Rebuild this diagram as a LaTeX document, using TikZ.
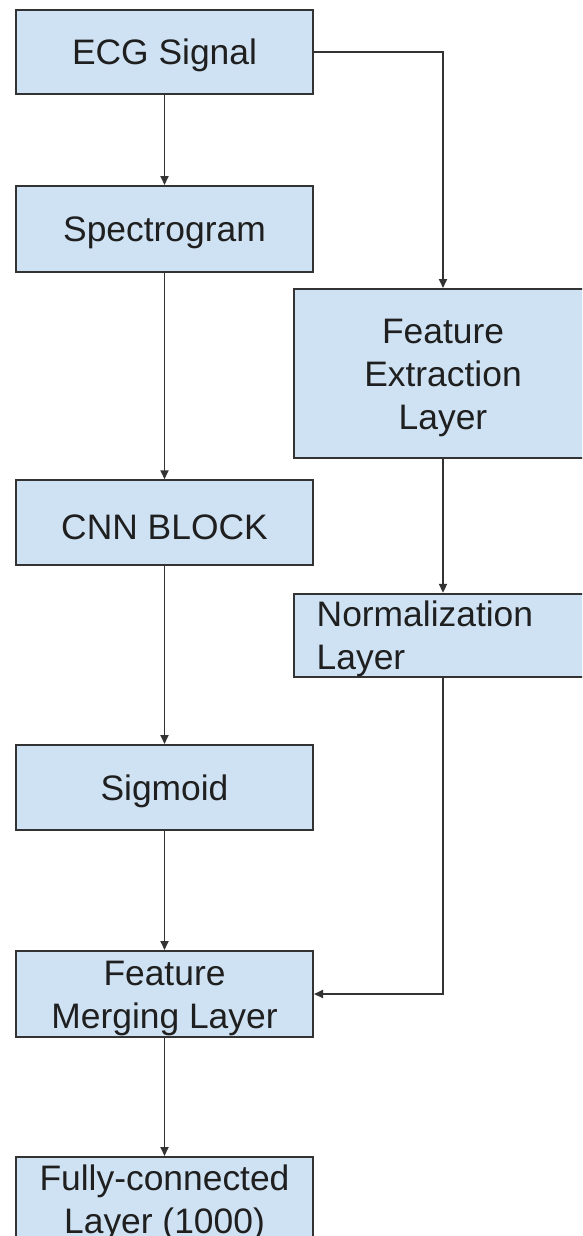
\documentclass[tikz,border=0pt]{standalone}
\usepackage{fontspec}
\setmainfont{Liberation Sans}
\usetikzlibrary{arrows.meta}
\definecolor{boxfill}{HTML}{CFE2F3}
\definecolor{edgecol}{HTML}{333333}
\begin{document}
\begin{tikzpicture}[x=1pt,y=-1pt,
  blk/.style={draw=edgecol, fill=boxfill, line width=2pt, minimum width=297pt, minimum height=85pt,
    inner sep=0pt, align=center, font=\fontsize{35.4}{43}\selectfont, text=black!88, text height=33pt},
  twoline/.style={text height=76pt},
  threeline/.style={text height=120pt},
  wideblk/.style={blk, minimum width=298pt},
  conn/.style={draw=edgecol, line width=1.8pt, -{Triangle[length=9pt,width=8pt]}}]
\useasboundingbox (0,0) rectangle (582,1236);
\clip (0,0) rectangle (582,1236);

\node[blk, minimum height=84pt] (ecg) at (164.5,52) {ECG Signal};
\node[blk, minimum height=86pt] (spec) at (164.5,229) {Spectrogram};
\node[wideblk, threeline, minimum height=169pt] (fe) at (443,373.5) {Feature\\Extraction\\Layer};
\node[blk] (cnn) at (164.5,522.75) {CNN BLOCK};
\node[wideblk, minimum height=83pt, align=left, text width=252.6pt, inner xsep=22.7pt] (norm) at (443,635.5) {Normalization\\Layer};
\node[blk] (sig) at (164.5,787.5) {Sigmoid};
\node[blk, twoline, minimum height=86pt] (merge) at (164.5,994) {Feature\\Merging Layer};
\node[blk, twoline] (fc) at (164.5,1199.5) {Fully-connected\\Layer (1000)};

\draw[conn] (ecg) -- (spec);
\draw[conn] (ecg.east) -| (fe.north);
\draw[conn] (spec) -- (cnn);
\draw[conn] (fe) -- (norm);
\draw[conn] (cnn) -- (sig);
\draw[conn] (norm.south) |- (merge.east);
\draw[conn] (sig) -- (merge);
\draw[conn] (merge) -- (fc);
\end{tikzpicture}
\end{document}
